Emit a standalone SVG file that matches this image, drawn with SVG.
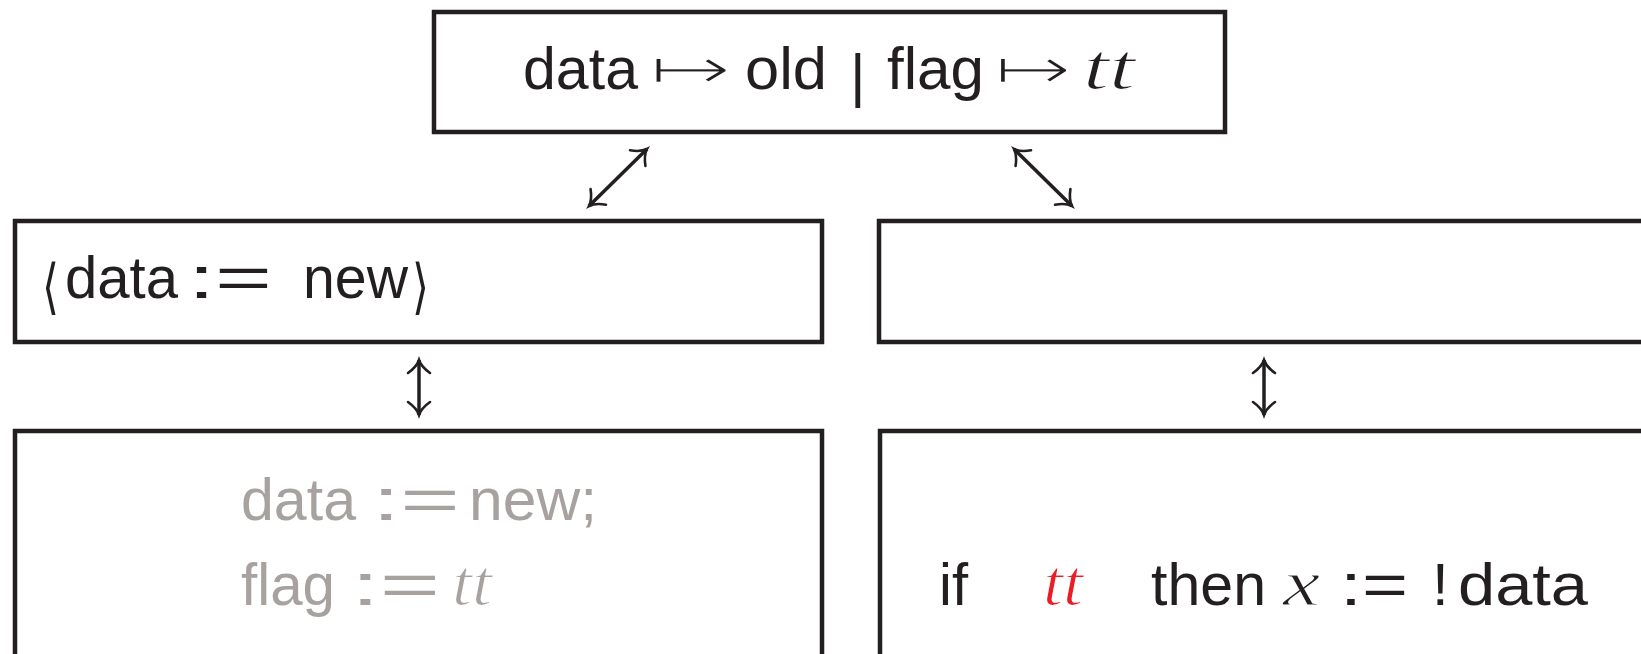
<svg xmlns="http://www.w3.org/2000/svg" width="1641" height="654" viewBox="0 0 1641 654">
  <style>
    .box { fill: #ffffff; stroke: #231f20; stroke-width: 4.5; }
    .sf { font-family: "Liberation Sans", "DejaVu Sans", sans-serif; font-size: 60px; fill: #231f20; }
    .sym { font-family: "DejaVu Sans", "Liberation Sans", sans-serif; font-size: 60px; fill: #231f20; }
    .mi { font-family: "Liberation Serif", "DejaVu Serif", serif; font-style: italic; font-size: 66px; fill: #231f20; }
    /* a white outline drawn over the fill slims the heavier glyphs */
    .slim { stroke: #ffffff; stroke-width: 2.6; }
    .slim1 { stroke: #ffffff; stroke-width: 1.2; }
    .grey { fill: #a7a2a0; }
    .red { fill: #ec1c24; }
    .conn { stroke: #231f20; stroke-width: 3.5; fill: none; marker-start: url(#tip); marker-end: url(#tip); }
  </style>
  <defs>
    <marker id="tip" markerUnits="userSpaceOnUse" viewBox="-16 -14 20 28" markerWidth="20" markerHeight="28" refX="0" refY="0" orient="auto-start-reverse" overflow="visible">
      <path d="M -13,-11 C -8,-4 -3,-1 0,0 C -3,1 -8,4 -13,11" fill="none" stroke="#231f20" stroke-width="2.6" stroke-linecap="round"/>
    </marker>
  </defs>

  <!-- shared heap -->
  <g id="heap">
    <rect class="box" x="434" y="12" width="791" height="120"/>
    <text class="sf" x="523" y="89" textLength="115" lengthAdjust="spacingAndGlyphs">data</text>
    <text class="sym slim" x="649" y="89" textLength="84" lengthAdjust="spacingAndGlyphs">↦</text>
    <text class="sf" x="745" y="89" textLength="82" lengthAdjust="spacingAndGlyphs">old</text>
    <text class="sf" x="850" y="96">|</text>
    <text class="sf" x="887" y="89" textLength="97" lengthAdjust="spacingAndGlyphs">flag</text>
    <text class="sym slim" x="994" y="89" textLength="79" lengthAdjust="spacingAndGlyphs">↦</text>
    <text class="mi slim1" x="1083" y="89" textLength="52" lengthAdjust="spacingAndGlyphs">tt</text>
  </g>

  <!-- left thread, abstract step -->
  <g id="left-atomic">
    <rect class="box" x="15" y="221" width="807" height="121"/>
    <text class="sym" x="42" y="307" font-size="78" textLength="17" lengthAdjust="spacingAndGlyphs">⟨</text>
    <text class="sf" x="65" y="298" textLength="113" lengthAdjust="spacingAndGlyphs">data</text>
    <text class="sf" x="188" y="298" textLength="84" lengthAdjust="spacingAndGlyphs">:=</text>
    <text class="sf" x="303" y="298" textLength="105" lengthAdjust="spacingAndGlyphs">new</text>
    <text class="sym" x="412" y="307" font-size="78" textLength="17" lengthAdjust="spacingAndGlyphs">⟩</text>
  </g>

  <!-- right thread, abstract step (empty) -->
  <g id="right-atomic">
    <rect class="box" x="879" y="221" width="800" height="121"/>
  </g>

  <!-- left thread, program -->
  <g id="left-program">
    <rect class="box" x="15" y="431" width="807" height="300"/>
    <text class="sf grey" x="241" y="520" textLength="115" lengthAdjust="spacingAndGlyphs">data</text>
    <text class="sf grey" x="372" y="520" textLength="88" lengthAdjust="spacingAndGlyphs">:=</text>
    <text class="sf grey" x="469" y="520" textLength="128" lengthAdjust="spacingAndGlyphs">new;</text>
    <text class="sf grey" x="241" y="605" textLength="94" lengthAdjust="spacingAndGlyphs">flag</text>
    <text class="sf grey" x="351" y="605" textLength="89" lengthAdjust="spacingAndGlyphs">:=</text>
    <text class="mi grey slim1" x="452" y="605" textLength="40" lengthAdjust="spacingAndGlyphs">tt</text>
  </g>

  <!-- right thread, program -->
  <g id="right-program">
    <rect class="box" x="880" y="431" width="800" height="300"/>
    <text class="sf" x="939" y="605" textLength="29" lengthAdjust="spacingAndGlyphs">if</text>
    <text class="mi red slim1" x="1043" y="605" textLength="40" lengthAdjust="spacingAndGlyphs">tt</text>
    <text class="sf" x="1151" y="605" textLength="115" lengthAdjust="spacingAndGlyphs">then</text>
    <text class="mi slim1" x="1283" y="605" textLength="37" lengthAdjust="spacingAndGlyphs">x</text>
    <text class="sf" x="1340" y="605" textLength="68" lengthAdjust="spacingAndGlyphs">:=</text>
    <text class="sf" x="1432" y="605">!</text>
    <text class="sf" x="1458" y="605" textLength="130" lengthAdjust="spacingAndGlyphs">data</text>
  </g>

  <!-- connectors -->
  <g id="connectors">
    <line class="conn" x1="589" y1="206" x2="647" y2="149"/>
    <line class="conn" x1="1014" y1="149" x2="1072" y2="206"/>
    <line class="conn" x1="419" y1="360" x2="419" y2="415"/>
    <line class="conn" x1="1264" y1="360" x2="1264" y2="415"/>
  </g>
</svg>
